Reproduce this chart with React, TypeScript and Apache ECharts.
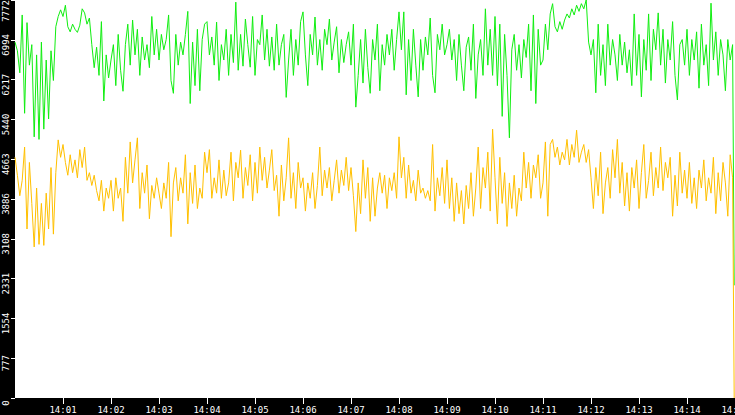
import { useEffect, useRef } from 'react';
import * as echarts from 'echarts';

// samples every 3 s from 14:00:00, last (partial) sample at 14:14:59
const SAMPLE_SECONDS = 3;
const LAST_SECOND = 899;

const X_TICK_LABELS = [
  '14:00', '14:01', '14:02', '14:03', '14:04', '14:05', '14:06', '14:07',
  '14:08', '14:09', '14:10', '14:11', '14:12', '14:13', '14:14', '14:15',
];
const Y_TICK_LABELS = ['0', '777', '1554', '2331', '3108', '3886', '4663', '5440', '6217', '6994', '7772'];
const Y_MAX = 7772;

const GREEN_SERIES = [
  6950, 6780, 6350, 7480, 5560, 7330, 6500, 6900, 5100, 6700, 5050, 6950, 5250, 6600, 5450, 6780, 6200, 7250, 7450, 7580,
  7450, 7670, 7250, 7150, 7300, 7200, 7140, 7280, 7600, 7520, 7300, 7420, 6900, 6450, 6850, 6300, 7350, 5800, 6700, 6250,
  6600, 6900, 6100, 7100, 6400, 5990, 6900, 7300, 6500, 7380, 6700, 7200, 6300, 7050, 6600, 6900, 6450, 7450, 6700, 7200,
  6600, 7100, 6800, 7000, 7480, 6200, 5950, 7100, 6500, 6950, 6700, 7100, 7550, 5750, 6950, 6100, 7200, 6000, 7000, 7300,
  7350, 6700, 7050, 6500, 7340, 6200, 6900, 6600, 7200, 6300, 7100, 6550, 7730, 6400, 7100, 6480, 7400, 6900, 6460, 7450,
  6300, 7000, 6900, 7480, 6600, 7200, 6480, 7050, 6400, 7300, 6500, 6900, 7100, 5870, 6600, 7200, 6300, 7000, 6500, 7350,
  7540, 6700, 6100, 7100, 6700, 7440, 6500, 7000, 6400, 7200, 6900, 7400, 6600, 6950, 7250, 6350, 7000, 6550, 6900, 7150,
  6500, 7300, 5680, 6300, 7000, 6150, 7200, 6450, 5950, 7000, 6600, 7300, 6000, 6900, 6500, 7100, 6700, 7200, 6400, 7000,
  7540, 6800, 7540, 5920, 7000, 6200, 7200, 6500, 5880, 7000, 6400, 7050, 6700, 7420, 6300, 5960, 7100, 6800, 7300, 6700,
  6900, 7200, 6600, 7000, 6200, 7100, 6500, 6000, 6850, 7050, 6400, 7300, 5850, 6700, 7000, 6300, 7600, 6500, 7200, 6300,
  7450, 6100, 7300, 5500, 7100, 6300, 5080, 6800, 7100, 6400, 6900, 6250, 7000, 6650, 7300, 6000, 7480, 5750, 7200, 6500,
  6600, 7300, 6800, 7500, 7700, 7250, 7150, 7350, 7200, 7380, 7500, 7420, 7600, 7480, 7670, 7550, 7700, 7600, 7772, 6950,
  6700, 7000, 5960, 7300, 6300, 6900, 6100, 7300, 6500, 7000, 6700, 6200, 7100, 6500, 6950, 6350, 6800, 6100, 7500, 6300,
  7100, 5880, 7000, 6400, 7500, 6200, 7200, 6800, 7520, 6500, 7200, 6150, 7000, 6600, 7350, 6300, 5820, 6900, 7000, 6500,
  7200, 6300, 7000, 6600, 7150, 6050, 7300, 6500, 6900, 6100, 7710, 6600, 7150, 6300, 7000, 6700, 6000, 7000, 6600, 6900,
  2200,
];

const AMBER_SERIES = [
  4700, 4350, 3950, 4250, 4900, 3300, 4600, 3800, 2950, 4100, 3000, 3800, 2980, 4000, 3300, 4500, 3200, 4400, 5040, 4700,
  4950, 4600, 4350, 4750, 4400, 4650, 4300, 4850, 4500, 4900, 4250, 4400, 4150, 4350, 4050, 3850, 4250, 3650, 4100, 3900,
  4250, 3650, 4300, 3900, 4100, 3450, 4700, 4000, 5000, 4200, 4650, 5080, 3700, 4400, 4000, 4550, 3500, 4150, 3900, 4300,
  4000, 3700, 4200, 3900, 4600, 3150, 4200, 4500, 3850, 4300, 4000, 4750, 3400, 4400, 3800, 4550, 3700, 4100, 3900, 4800,
  4400, 4850, 3900, 4300, 4000, 4650, 3900, 4450, 3950, 4200, 4800, 3850, 4600, 4300, 4840, 3900, 4500, 4150, 4750, 3850,
  4600, 4000, 4900, 4250, 4700, 4100, 4450, 4850, 4050, 4350, 3550, 4550, 3850, 4300, 5080, 3900, 4400, 3700, 4600, 4100,
  4300, 3650, 4200, 3900, 4400, 3700, 4150, 4900, 3950, 4450, 4100, 4500, 3850, 4250, 4650, 4000, 4450, 4150, 4700, 4050,
  4500, 3950, 3250, 4200, 3600, 4650, 3900, 4500, 3450, 4300, 3550, 4100, 4400, 4000, 4350, 3700, 4300, 4050, 4400, 3900,
  5100, 4300, 4700, 3900, 4550, 4000, 4250, 3850, 4450, 4000, 4100, 3900, 4050, 3850, 4950, 3650, 4300, 3950, 4500, 3800,
  4650, 3700, 4300, 3450, 4200, 3600, 4050, 3400, 4150, 3700, 4400, 3550, 4100, 4900, 3700, 4500, 4100, 4800, 3650, 5250,
  4300, 3400, 4700, 3800, 4400, 3350, 4200, 3700, 4350, 3550, 4100, 3850, 4800, 4100, 4600, 3900, 4550, 4300, 4750, 3900,
  4200, 5000, 3550, 4950, 5050, 4700, 4900, 4550, 4800, 4650, 5050, 4550, 4950, 4700, 5230, 4600, 4800, 4950, 4600, 4850,
  4300, 3700, 4500, 3950, 4800, 3600, 4200, 4500, 3900, 4850, 4300, 5050, 4000, 4600, 3750, 4400, 3650, 4500, 4100, 4650,
  3700, 4400, 4950, 3900, 4250, 4800, 3950, 4500, 4100, 4900, 4050, 4600, 4300, 4700, 3550, 4350, 3750, 4800, 4000, 4450,
  3900, 4600, 3800, 4300, 3700, 4450, 4100, 4650, 3850, 4300, 4000, 4700, 3600, 4400, 3850, 4600, 4200, 3550, 4750, 4300,
  0,
];

const GREEN = '#10ee10';
const AMBER = '#ffc000';
const FONT = 'DejaVu Sans Mono';

function timeOf(i: number, count: number) {
  return i === count - 1 ? LAST_SECOND : i * SAMPLE_SECONDS;
}

export default function App() {
  const ref = useRef<HTMLDivElement>(null);

  useEffect(() => {
    if (!ref.current) return;
    const chart = echarts.init(ref.current, undefined, { renderer: 'svg' });

    const green = GREEN_SERIES.map((v, i) => [timeOf(i, GREEN_SERIES.length), v]);
    const amber = AMBER_SERIES.map((v, i) => [timeOf(i, AMBER_SERIES.length), v]);
    const lastY = Y_TICK_LABELS.length - 1;

    chart.setOption({
      animation: false,
      backgroundColor: '#000',
      grid: {
        left: 15, right: 0, top: 0, bottom: 17,
        show: true, backgroundColor: '#fff', borderWidth: 0,
        outerBoundsMode: 'none',
      },
      xAxis: {
        type: 'value',
        min: 0,
        max: 900,
        interval: 60,
        axisLine: { show: false },
        axisTick: { length: 6, lineStyle: { color: '#fff', width: 1 } },
        axisLabel: {
          color: '#fff', fontFamily: FONT, fontSize: 9, margin: 7,
          showMinLabel: false,
          formatter: (_v: number, idx: number) => X_TICK_LABELS[idx] ?? '',
        },
        splitLine: { show: false },
      },
      yAxis: {
        type: 'value',
        min: 0,
        max: Y_MAX,
        interval: Y_MAX / 10,
        axisLine: { show: false },
        axisTick: { length: 4, lineStyle: { color: '#fff', width: 1 } },
        axisLabel: {
          color: '#fff', fontFamily: FONT, fontSize: 9, margin: 5,
          rotate: 90,
          padding: [0, 10, 0, 0],
          formatter: (_v: number, idx: number) =>
            idx === lastY ? `{top|${Y_TICK_LABELS[idx]}}` : Y_TICK_LABELS[idx] ?? '',
          rich: {
            top: { color: '#fff', fontFamily: FONT, fontSize: 9, padding: [0, 12, 0, 0] },
          },
        },
        splitLine: { show: false },
      },
      series: [
        {
          type: 'line', data: green, symbol: 'none',
          lineStyle: { color: GREEN, width: 1 },
        },
        {
          type: 'line', data: amber, symbol: 'none',
          lineStyle: { color: AMBER, width: 1 },
        },
      ],
    });

    return () => chart.dispose();
  }, []);

  return (
    <div
      ref={ref}
      style={{ position: 'fixed', left: 0, top: 0, width: 735, height: 415 }}
    />
  );
}
